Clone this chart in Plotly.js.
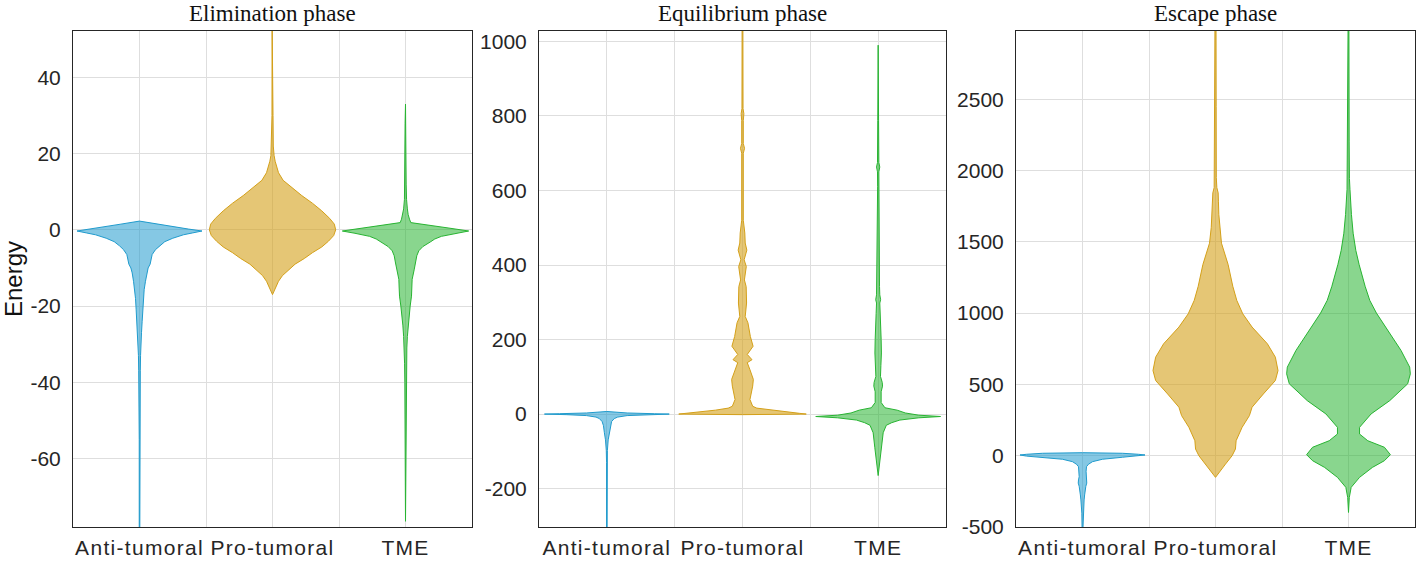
<!DOCTYPE html>
<html>
<head>
<meta charset="utf-8">
<script src="https://cdn.plot.ly/plotly-3.0.1.min.js"></script>
<style>
html,body{margin:0;padding:0;background:#fff;}
#chart{width:1417px;height:561px;}
#chart .xtick text, #chart .x2tick text, #chart .x3tick text{letter-spacing:1.3px;}
</style>
</head>
<body>
<div id="chart"></div>
<script>
// ---- categories / labels ----
const categories = ['Anti-tumoral', 'Pro-tumoral', 'TME'];
const phases = ['Elimination phase', 'Equilibrium phase', 'Escape phase'];
const yLabel = 'Energy';

// ---- y tick labels per phase ----
const elimTicks = [-60, -40, -20, 0, 20, 40];
const equiTicks = [-200, 0, 200, 400, 600, 800, 1000];
const escTicks = [-500, 0, 500, 1000, 1500, 2000, 2500];

// ---- violin density profiles: [energy, half-width] ----
// Elimination phase
const elimAnti = [[-82,0.002],[-55,0.002],[-46,0.003],[-44,0.005],[-41,0.004],[-37,0.006],[-33,0.008],[-30,0.01],[-27,0.015],[-24,0.02],[-21,0.025],[-18,0.03],[-15.7,0.035],[-13.5,0.045],[-11.3,0.055],[-10,0.065],[-9,0.08],[-7.8,0.085],[-6.5,0.095],[-5.2,0.12],[-4.2,0.15],[-3.1,0.19],[-2.2,0.25],[-1.3,0.33],[-0.8,0.4],[-0.3,0.47],[0.2,0.37],[0.8,0.26],[1.5,0.14],[2.3,0]];
const elimPro = [[-17,0],[-16,0.012],[-15,0.025],[-13.5,0.045],[-12,0.075],[-10.5,0.12],[-9,0.17],[-7.5,0.24],[-6,0.3],[-4.5,0.37],[-3,0.42],[-1.5,0.46],[0,0.475],[1.5,0.465],[3,0.43],[5,0.37],[7,0.3],[9,0.22],[11,0.15],[13,0.08],[15,0.045],[16.5,0.03],[18,0.02],[19.5,0.012],[22,0.006],[30,0.004],[55,0.003]];
const elimTME = [[-76.5,0],[-65,0.002],[-50,0.003],[-40,0.005],[-35,0.007],[-31,0.01],[-28,0.014],[-25,0.02],[-22,0.028],[-20,0.035],[-17.4,0.045],[-15,0.048],[-13,0.05],[-10.5,0.065],[-8.7,0.075],[-6.8,0.085],[-5.5,0.1],[-4.4,0.13],[-3.1,0.19],[-2.4,0.22],[-1.7,0.27],[-0.9,0.38],[-0.3,0.475],[0.5,0.32],[1.2,0.17],[1.9,0.04],[2.8,0.03],[4,0.02],[5.5,0.014],[8,0.008],[12,0.005],[20,0.004],[28,0.003],[33,0]];
// Equilibrium phase
const equiAnti = [[-320,0.002],[-130,0.002],[-98,0.004],[-69,0.01],[-50,0.018],[-31,0.025],[-20,0.035],[-12,0.055],[-8,0.08],[-4,0.15],[-1.5,0.3],[0,0.46],[1,0.35],[3,0.15],[7,0]];
const equiPro = [[-1.5,0],[0,0.47],[2,0.42],[5,0.35],[10.5,0.2],[16,0.105],[21,0.075],[39,0.055],[75,0.075],[93,0.08],[119,0.055],[138,0.035],[146,0.07],[160,0.035],[182,0.078],[208,0.058],[245,0.04],[262,0.02],[298,0.03],[342,0.027],[360,0.014],[396,0.028],[414,0.012],[440,0.032],[459,0.02],[486,0.017],[520,0.006],[610,0.006],[700,0.006],[713,0.015],[726,0.006],[788,0.006],[806,0.01],[820,0.004],[922,0.004],[1040,0.003]];
const equiTME = [[-165,0],[-127,0.012],[-89,0.025],[-50,0.037],[-30,0.06],[-23,0.1],[-16,0.16],[-10,0.3],[-6.5,0.46],[-3,0.3],[3,0.2],[10.5,0.14],[17,0.05],[31,0.022],[60,0.022],[75,0.032],[85,0.03],[101,0.017],[130,0.02],[164,0.024],[200,0.022],[235,0.02],[270,0.015],[298,0.012],[307,0.018],[320,0.012],[342,0.01],[431,0.007],[500,0.005],[524,0.008],[540,0.005],[610,0.004],[650,0.005],[663,0.012],[675,0.005],[788,0.003],[990,0]];
// Escape phase
const escAnti = [[-520,0.003],[-403,0.005],[-360,0.008],[-310,0.012],[-275,0.016],[-240,0.02],[-215,0.025],[-192,0.032],[-170,0.03],[-147,0.025],[-110,0.027],[-77,0.03],[-60,0.045],[-42,0.075],[-25,0.15],[-11,0.3],[-3,0.42],[5,0.47],[10,0.42],[17,0.3],[21,0]];
const escPro = [[-152,0],[-105,0.035],[-59,0.075],[0,0.125],[47,0.15],[105,0.155],[199,0.2],[281,0.255],[340,0.275],[433,0.36],[527,0.45],[597,0.47],[691,0.45],[785,0.39],[902,0.275],[995,0.205],[1089,0.16],[1188,0.13],[1340,0.095],[1490,0.045],[1600,0.032],[1692,0.025],[1780,0.022],[1843,0.02],[1880,0.01],[1950,0.006],[2450,0.005],[3050,0.004]];
const escTME = [[-398,0],[-293,0.006],[-222,0.02],[-152,0.083],[-82,0.18],[-35,0.27],[7,0.315],[59,0.27],[105,0.145],[152,0.083],[199,0.083],[293,0.17],[386,0.31],[504,0.445],[574,0.465],[621,0.46],[738,0.395],[855,0.31],[1000,0.21],[1089,0.16],[1188,0.125],[1340,0.08],[1440,0.055],[1560,0.035],[1692,0.022],[1868,0.011],[1944,0.007],[2200,0.005],[2473,0.006],[3050,0.003]];

const panels = [
  {profiles: [elimAnti, elimPro, elimTME], range: [-78, 52.2], ticks: elimTicks},
  {profiles: [equiAnti, equiPro, equiTME], range: [-303, 1028], ticks: equiTicks},
  {profiles: [escAnti, escPro, escTME], range: [-500, 2978], ticks: escTicks}
];

// ---- styles ----
const lineColors = ['rgb(32,155,205)', 'rgb(212,160,25)', 'rgb(40,180,50)'];
const fillColors = ['rgba(32,155,205,0.55)', 'rgba(212,160,25,0.6)', 'rgba(40,180,50,0.55)'];
const xDomains = [[73/1417, 472/1417], [539/1417, 946/1417], [1016/1417, 1415/1417]];
const yDomain = [1 - 527/561, 1 - 31/561];

function violinTrace(profile, pos, k, axIdx) {
  const ys = profile.map(p => p[0]);
  const ws = profile.map(p => p[1]);
  const x = ws.map(w => pos + w).concat(ws.slice().reverse().map(w => pos - w));
  const y = ys.concat(ys.slice().reverse());
  x.push(x[0]); y.push(y[0]);
  const sfx = axIdx === 0 ? '' : String(axIdx + 1);
  return {
    type: 'scatter', mode: 'lines', x: x, y: y,
    fill: 'toself', fillcolor: fillColors[k],
    line: {color: lineColors[k], width: 1},
    xaxis: 'x' + sfx, yaxis: 'y' + sfx,
    hoverinfo: 'skip', showlegend: false
  };
}

const traces = [];
panels.forEach((p, i) => {
  p.profiles.forEach((prof, k) => traces.push(violinTrace(prof, k + 1, k, i)));
});

const tickFont = {family: 'Liberation Sans, Arial, sans-serif', size: 21, color: '#262626'};
const layout = {
  width: 1417, height: 561,
  margin: {l: 0, r: 0, t: 0, b: 0},
  paper_bgcolor: '#fff', plot_bgcolor: '#fff',
  showlegend: false,
  annotations: [],
  font: tickFont
};
panels.forEach((p, i) => {
  const sfx = i === 0 ? '' : String(i + 1);
  layout['xaxis' + sfx] = {
    domain: xDomains[i], range: [0.5, 3.5], anchor: 'y' + sfx,
    tickvals: [1, 1.5, 2, 2.5, 3],
    ticktext: [categories[0], '', categories[1], '', categories[2]],
    showgrid: true, gridcolor: '#dedede', gridwidth: 1, zeroline: false,
    showline: true, mirror: true, linecolor: '#262626', linewidth: 1,
    ticks: '', tickfont: tickFont, ticklabelstandoff: 2, fixedrange: true
  };
  layout['yaxis' + sfx] = {
    domain: yDomain, range: p.range, anchor: 'x' + sfx,
    tickvals: p.ticks, ticktext: p.ticks.map(v => String(v)),
    showgrid: true, gridcolor: '#dedede', gridwidth: 1, zeroline: false,
    showline: true, mirror: true, linecolor: '#262626', linewidth: 1,
    ticks: '', tickfont: tickFont, ticklabelstandoff: 7, fixedrange: true
  };
  layout.annotations.push({
    text: phases[i], xref: 'paper', yref: 'paper',
    x: (xDomains[i][0] + xDomains[i][1]) / 2, y: 1 - 14/561,
    xanchor: 'center', yanchor: 'middle', showarrow: false,
    font: {family: 'Liberation Serif, Times New Roman, serif', size: 23, color: '#111'}
  });
});
layout.annotations.push({
  text: yLabel, xref: 'paper', yref: 'paper', x: 13/1417, y: 1 - 279/561,
  xanchor: 'center', yanchor: 'middle', textangle: -90, showarrow: false,
  font: {family: 'Liberation Sans, Arial, sans-serif', size: 24, color: '#111'}
});

Plotly.newPlot('chart', traces, layout, {staticPlot: true, displayModeBar: false});
</script>
</body>
</html>
